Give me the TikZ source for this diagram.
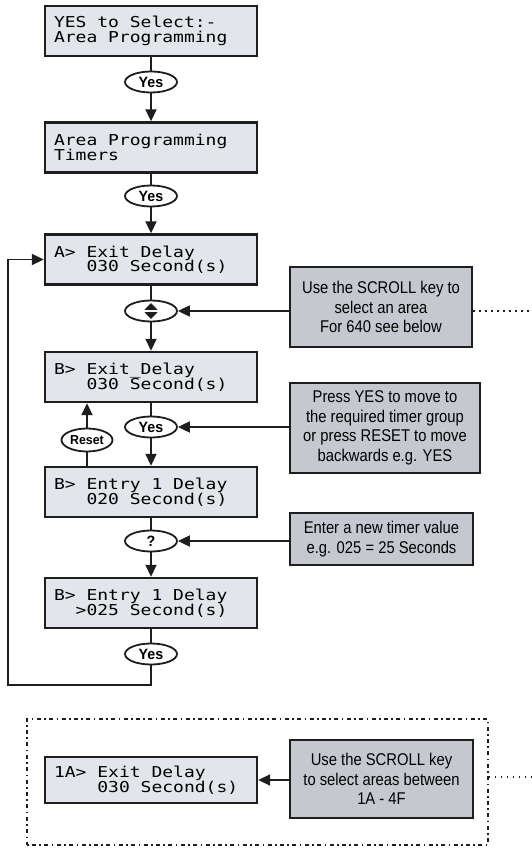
\documentclass[tikz,border=0pt]{standalone}
\usepackage{fontspec}
\setmainfont{Liberation Sans}
\newfontfamily\lcdfont[FakeStretch=1.2]{DejaVu Sans Mono}
\newfontfamily\notefont[FakeStretch=0.87]{Liberation Sans}
\newfontfamily\ovalfont[FakeStretch=0.95]{Liberation Sans}
\usetikzlibrary{arrows.meta,shapes.geometric}
\definecolor{lcdfill}{RGB}{226,229,234}
\definecolor{notefill}{RGB}{197,201,207}
\definecolor{ink}{RGB}{30,30,30}
\newcommand\lcdtext{\lcdfont\fontsize{15}{14.5}\selectfont\lineskiplimit=-50pt\relax}
\newcommand\lcdspaces{\spaceskip=\fontcharwd\font`x\relax\xspaceskip=\spaceskip}
\newcommand\notetext{\notefont\fontsize{17}{19.5}\selectfont\lineskiplimit=-50pt\relax}
\tikzset{
  lcd/.style={rectangle, draw=ink, line width=2.4pt, fill=lcdfill,
    minimum width=212pt, minimum height=50pt, text width=194pt,
    inner xsep=9pt, inner ysep=0pt, align=left, font=\lcdtext,
    execute at begin node=\lcdspaces},
  note/.style={rectangle, draw=ink, line width=2.2pt, fill=notefill,
    inner sep=0pt, align=center, font=\notetext},
  oval/.style={ellipse, draw=ink, line width=1.8pt, fill=white,
    minimum width=52pt, minimum height=21pt, inner sep=0pt,
    font=\ovalfont\bfseries\fontsize{15}{15}\selectfont},
  conn/.style={draw=ink, line width=1.9pt},
  arr/.style={-{Triangle[length=12pt,width=11pt]}},
  dots/.style={draw=ink, line width=1.6pt, dash pattern=on 1.6pt off 4.4pt},
  dashdots/.style={draw=ink, line width=1.6pt, dash pattern=on 1.6pt off 3.4pt on 4pt off 3.4pt}
}
\begin{document}
\begin{tikzpicture}[x=1pt,y=-1pt]
\useasboundingbox (0,0) rectangle (531,850);

% LCD boxes
\node[lcd] (b1) at (151,31) {YES to Select:-\\Area Programming};
\node[lcd] (b2) at (151,147.5) {Area Programming\\Timers};
\node[lcd] (b3) at (151,259.5) {A> Exit Delay\\\phantom{xxx}030 Second(s)};
\node[lcd] (b4) at (151,377) {B> Exit\_Delay\\\phantom{xxx}030 Second(s)};
\node[lcd] (b5) at (151,492) {B> Entry 1 Delay\\\phantom{xxx}020 Second(s)};
\node[lcd] (b6) at (151,603) {B> Entry 1 Delay\\\phantom{xx}>025 Second(s)};

% ovals
\node[oval] (y1) at (151,82) {Yes};
\node[oval] (y2) at (151,196) {Yes};
\node[oval] (s)  at (151,311) {};
\node[oval] (y3) at (151,427) {Yes};
\node[oval, minimum width=51pt, minimum height=23pt, font=\ovalfont\bfseries\fontsize{13}{13}\selectfont] (r) at (87,440) {Reset};
\node[oval] (q)  at (151,541) {?};
\node[oval] (y4) at (151,654) {Yes};

% scroll symbol
\fill[ink] (s.center) ++(-6.5,-1.2) -- ++(13,0) -- ++(-6.5,-6.8) -- cycle;
\fill[ink] (s.center) ++(-6.5,1.2) -- ++(13,0) -- ++(-6.5,6.8) -- cycle;

% notes
\node[note, minimum width=182pt, minimum height=80pt] (n1) at (381,307)
  {Use the SCROLL key to\\select an area\\For 640 see below};
\node[note, minimum width=190pt, minimum height=90pt] (n2) at (385,428)
  {Press YES to move to\\the required timer group\\or press RESET to move\\backwards e.g. YES};
\node[note, minimum width=183pt, minimum height=52pt] (n3) at (381.5,539)
  {Enter a new timer value\\e.g. 025 = 25 Seconds};

% main column connectors
\draw[conn] (b1) -- (y1);
\draw[conn,arr] (y1) -- (b2);
\draw[conn] (b2) -- (y2);
\draw[conn,arr] (y2) -- (b3);
\draw[conn] (b3) -- (s);
\draw[conn,arr] (s) -- (b4);
\draw[conn] (b4) -- (y3);
\draw[conn,arr] (y3) -- (b5);
\draw[conn] (b5) -- (q);
\draw[conn,arr] (q) -- (b6);
\draw[conn] (b6) -- (y4);

% reset path
\draw[conn] (b5.north -| r) -- (r.south);
\draw[conn,arr] (r.north) -- (b4.south -| r);

% loop back
\coordinate (c2) at (8,685);
\draw[conn,arr] (y4.south) |- (c2) |- (b3.west);

% note arrows
\draw[conn,arr] (n1.west |- s) -- (s.east);
\draw[conn,arr] (n2.west |- y3) -- (y3.east);
\draw[conn,arr] (n3.west |- q) -- (q.east);

% dotted link to the right
\coordinate (e1) at (531,311);
\draw[dots] (n1.east |- e1) -- (e1);

% lower dotted frame
\node[rectangle, dashdots, minimum width=461pt, minimum height=126pt, inner sep=0pt] (dbox) at (257.5,782) {};
\node[lcd, minimum height=46pt] (b7) at (151,780) {1A> Exit Delay\\\phantom{xxxx}030 Second(s)};
\node[note, minimum width=183pt, minimum height=78pt] (n4) at (381.5,779)
  {Use the SCROLL key\\to select areas between\\1A - 4F};
\draw[conn,arr] (n4.west |- b7) -- (b7.east);
\coordinate (e2) at (531,777);
\draw[dots] (dbox.east |- e2) -- (e2);
\end{tikzpicture}
\end{document}
